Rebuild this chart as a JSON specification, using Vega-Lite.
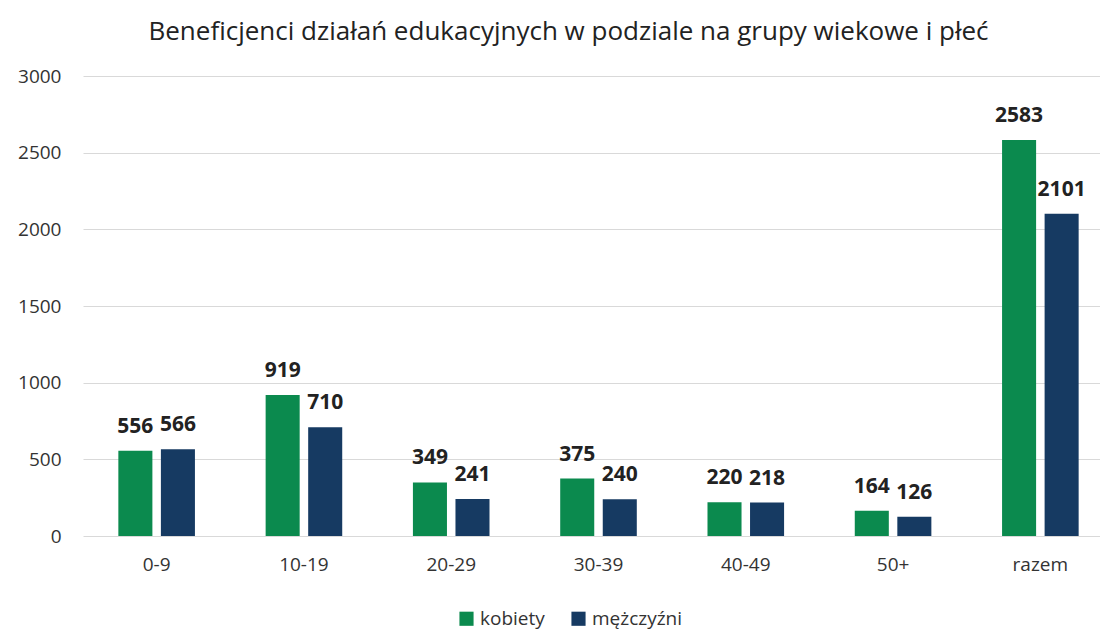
{
  "$schema": "https://vega.github.io/schema/vega-lite/v6.json",
  "width": 1031,
  "height": 460,
  "padding": {"left": 17, "top": 19, "right": 0, "bottom": 30},
  "background": "white",
  "title": {"text": "Beneficjenci działań edukacyjnych w podziale na grupy wiekowe i płeć", "font": "Open Sans", "fontSize": 26, "fontWeight": "normal", "color": "#222222", "offset": 22, "anchor": "middle", "frame": "group", "dx": -30},
  "config": {"view": {"stroke": null}, "font": "Open Sans"},
  "data": {"values": [
    {"grupa": "0-9", "plec": "kobiety", "v": 556},
    {"grupa": "0-9", "plec": "mężczyźni", "v": 566},
    {"grupa": "10-19", "plec": "kobiety", "v": 919},
    {"grupa": "10-19", "plec": "mężczyźni", "v": 710},
    {"grupa": "20-29", "plec": "kobiety", "v": 349},
    {"grupa": "20-29", "plec": "mężczyźni", "v": 241},
    {"grupa": "30-39", "plec": "kobiety", "v": 375},
    {"grupa": "30-39", "plec": "mężczyźni", "v": 240},
    {"grupa": "40-49", "plec": "kobiety", "v": 220},
    {"grupa": "40-49", "plec": "mężczyźni", "v": 218},
    {"grupa": "50+", "plec": "kobiety", "v": 164},
    {"grupa": "50+", "plec": "mężczyźni", "v": 126},
    {"grupa": "razem", "plec": "kobiety", "v": 2583},
    {"grupa": "razem", "plec": "mężczyźni", "v": 2101}
  ]},
  "encoding": {
    "x": {"field": "grupa", "type": "nominal", "sort": null,
      "scale": {"paddingInner": 0.48, "paddingOuter": 0.24},
      "axis": {"title": null, "labelAngle": 0, "labelFontSize": 19, "labelColor": "#333333", "domain": false, "ticks": false, "labelPadding": 19}},
    "xOffset": {"field": "plec", "type": "nominal", "scale": {"paddingInner": 0.2}},
    "y": {"field": "v", "type": "quantitative",
      "scale": {"domain": [0, 3000]},
      "axis": {"title": null, "format": "d", "values": [0, 500, 1000, 1500, 2000, 2500, 3000], "labelFontSize": 19, "labelColor": "#333333", "domain": false, "ticks": false, "labelPadding": 22, "gridColor": "#d9d9d9", "gridWidth": 1}},
    "color": {"field": "plec", "type": "nominal",
      "scale": {"domain": ["kobiety", "mężczyźni"], "range": ["#0b8a4e", "#163a62"]},
      "legend": {"title": null, "orient": "none", "legendX": 374, "legendY": 533, "direction": "horizontal", "symbolType": "square", "symbolSize": 200, "labelFontSize": 19, "labelColor": "#333333", "columnPadding": 24}}
  },
  "layer": [
    {"mark": {"type": "bar"}},
    {"mark": {"type": "text", "dy": -24, "fontSize": 21, "fontWeight": "bold", "color": "#222222"},
     "encoding": {"text": {"field": "v", "type": "quantitative"}, "color": {"value": "#222222"}}}
  ]
}
